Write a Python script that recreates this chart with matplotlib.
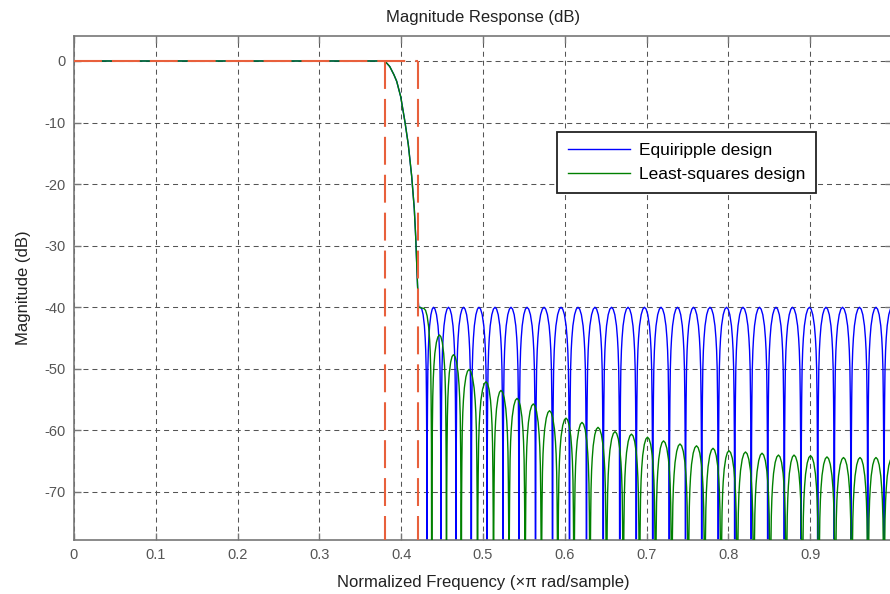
import numpy as np
import matplotlib
matplotlib.use("Agg")
import matplotlib.pyplot as plt

plt.rcParams['font.family'] = ['Liberation Sans', 'DejaVu Sans']

# passband + transition (shared by both designs)
trans_f = [0.0, 0.380, 0.386, 0.391, 0.3945, 0.3994, 0.4046, 0.4087,
           0.4128, 0.416, 0.4177, 0.419, 0.420, 0.4212]
trans_db = [0, 0, -0.9, -2.2, -3.3, -5.8, -9.9, -13.6,
            -18.7, -24.0, -28.5, -33.0, -36.5, -40.0]

# stopband lobe peaks, equiripple design
eq_peak_f = [0.4236, 0.4395, 0.4578, 0.4762, 0.4951, 0.5147, 0.5342, 0.5538,
             0.5746, 0.5954, 0.6161, 0.6369, 0.6571, 0.6773, 0.6974, 0.7176,
             0.7378, 0.7573, 0.7775, 0.7977, 0.8178, 0.8380, 0.8582, 0.8784,
             0.8991, 0.9193, 0.9395, 0.9603, 0.9804, 1.0]
eq_peak_db = [-40.0] * len(eq_peak_f)

# stopband lobe peaks, least-squares design
ls_peak_f = [0.4279, 0.4468, 0.4639, 0.4829, 0.5037, 0.5220, 0.5416, 0.5615,
             0.5813, 0.6015, 0.6210, 0.6406, 0.6614, 0.6815, 0.7011, 0.7207,
             0.7408, 0.7610, 0.7812, 0.8007, 0.8209, 0.8411, 0.8612, 0.8802,
             0.9004, 0.9205, 0.9407, 0.9609, 0.9804, 1.0]
ls_peak_db = [-40.2, -44.5, -47.7, -50.1, -52.1, -53.5, -54.8, -55.7,
              -56.8, -58.0, -58.7, -59.5, -60.2, -60.6, -61.1, -61.7,
              -62.2, -62.5, -62.9, -63.3, -63.5, -63.7, -64.0, -64.0,
              -64.1, -64.3, -64.4, -64.4, -64.4, -64.5]

# shape of one lobe (half, from peak to null), relative dB
shape_u = [0, 0.1, 0.2, 0.3, 0.36, 0.4, 0.435, 0.46, 0.48, 0.5]
shape_db = [0, -0.3, -1.2, -3.0, -5.0, -7.0, -10.0, -15.0, -22.0, -60.0]


def build_curve(pf, pdb):
    f = list(trans_f)
    d = list(trans_db)
    n = len(pf)
    for i in range(n):
        fp, dp = pf[i], pdb[i]
        if i > 0:
            left = (pf[i - 1] + fp) / 2
            for u, o in zip(shape_u[::-1][1:], shape_db[::-1][1:]):
                f.append(fp - u / 0.5 * (fp - left))
                d.append(dp + o)
        else:
            f.append(fp)
            d.append(dp)
        if i < n - 1:
            right = (fp + pf[i + 1]) / 2
            for u, o in zip(shape_u[1:], shape_db[1:]):
                f.append(fp + u / 0.5 * (right - fp))
                d.append(dp + o)
    return f, d


eq_f, eq_db = build_curve(eq_peak_f, eq_peak_db)
ls_f, ls_db = build_curve(ls_peak_f, ls_peak_db)

fig = plt.figure(figsize=(8.9, 5.94), dpi=100)
ax = fig.add_axes([74 / 890, 54 / 594, 818 / 890, 504 / 594])
ax.set_axisbelow(True)

ax.plot(eq_f, eq_db, color='#0000ff', lw=1.0, label='Equiripple design', zorder=2)
ax.plot(ls_f, ls_db, color='#008000', lw=1.0, label='Least-squares design', zorder=3)

# spec mask
red = '#e8603c'
mask_kw = dict(color=red, lw=1.5, ls=(0, (13.4, 4.8)), zorder=4)
ax.plot([0, 0.42], [0, 0], **mask_kw)
ax.plot([0.38, 0.38], [0, -90], **mask_kw)
ax.plot([0.42, 0.42], [0, -90], **mask_kw)

ax.set_xlim(0, 1)
ax.set_ylim(-77.8, 4.06)
ax.set_xticks(np.arange(0, 1.0, 0.1))
ax.set_xticklabels(['0', '0.1', '0.2', '0.3', '0.4', '0.5', '0.6', '0.7', '0.8', '0.9'])
ax.set_yticks([0, -10, -20, -30, -40, -50, -60, -70])
ax.set_yticklabels(['0', '-10', '-20', '-30', '-40', '-50', '-60', '-70'])
ax.grid(True, color='#555555', lw=0.75, ls=(0, (4.8, 3.8)))

ax.tick_params(direction='in', length=5, width=1, color='#777777',
               labelcolor='#555555', labelsize=10.5, top=True, right=True, pad=6)
for s in ax.spines.values():
    s.set_color('#777777')
    s.set_linewidth(1.2)

ax.set_title('Magnitude Response (dB)', fontsize=12, color='#222222', pad=10)
ax.set_xlabel('Normalized Frequency (\u00d7\u03c0 rad/sample)', fontsize=12,
              color='#222222', labelpad=9)
ax.set_ylabel('Magnitude (dB)', fontsize=12, color='#222222', labelpad=10)

leg = ax.legend(loc='upper left', bbox_to_anchor=(0.5905, 0.8095), fontsize=12.5,
                frameon=True, fancybox=False, framealpha=1, edgecolor='#222222',
                handlelength=3.6, borderpad=0.62, labelspacing=0.5,
                handletextpad=0.5, borderaxespad=0)
leg.get_frame().set_linewidth(1.3)

fig.savefig('out.png', dpi=100)
